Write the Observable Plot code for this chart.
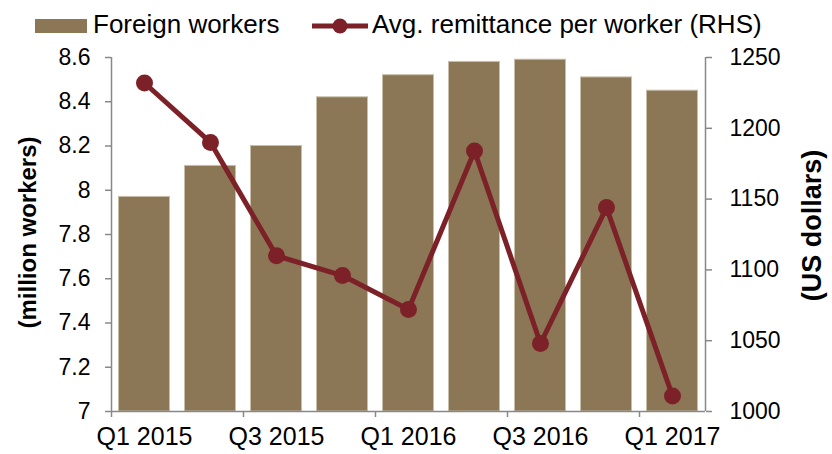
<!DOCTYPE html>
<html>
<head>
<meta charset="utf-8">
<script src="https://cdn.jsdelivr.net/npm/d3@7"></script>
<script src="https://cdn.jsdelivr.net/npm/@observablehq/plot@0.6"></script>
<style>
  body { margin: 0; background: #fff; font-family: "Liberation Sans", Arial, sans-serif; }
  #wrap { width: 832px; }
  #legend { position: relative; width: 832px; height: 40px; }
  #legend .sw { position: absolute; left: 35px; top: 19px; width: 52px; height: 14px; background: #8B7755; }
  #legend .t { position: absolute; top: 11px; font-size: 26px; line-height: 26px; color: #000; white-space: nowrap; }
  #legend svg { position: absolute; left: 0; top: 0; }
</style>
</head>
<body>
<div id="wrap">
  <div id="legend">
    <div class="sw"></div>
    <span class="t" style="left:93px">Foreign workers</span>
    <svg width="380" height="40"><line x1="312" x2="368" y1="26" y2="26" stroke="#7C2128" stroke-width="5"/><circle cx="340" cy="26" r="7.5" fill="#7C2128"/></svg>
    <span class="t" style="left:372px">Avg. remittance per worker (RHS)</span>
  </div>
  <div id="chart"></div>
</div>
<script>
const quarters = ["Q1 2015", "Q2 2015", "Q3 2015", "Q4 2015", "Q1 2016", "Q2 2016", "Q3 2016", "Q4 2016", "Q1 2017"];
const workers = [7.97, 8.11, 8.20, 8.42, 8.52, 8.58, 8.59, 8.51, 8.45];
const remittance = [1232, 1190, 1110, 1096, 1072, 1184, 1048, 1144, 1011];
const leftTicks = [7, 7.2, 7.4, 7.6, 7.8, 8, 8.2, 8.4, 8.6];
const rightTicks = [1000, 1050, 1100, 1150, 1200, 1250];
const labeledQuarters = ["Q1 2015", "Q3 2015", "Q1 2016", "Q3 2016", "Q1 2017"];

const BAR = "#8B7755", LINE = "#7C2128", AX = "#888888";
const L0 = leftTicks[0], L1 = leftTicks[leftTicks.length - 1];
const R0 = rightTicks[0], R1 = rightTicks[rightTicks.length - 1];
const toLeft = v => L0 + (v - R0) / (R1 - R0) * (L1 - L0);
const toRight = v => R0 + (v - L0) / (L1 - L0) * (R1 - R0);

const data = quarters.map((q, i) => ({i, q, workers: workers[i], rem: remittance[i]}));
const pad = 0.1136;
const labelIdx = labeledQuarters.map(q => quarters.indexOf(q));

const chart = Plot.plot({
  width: 832,
  height: 414,
  marginLeft: 111,
  marginRight: 127,
  marginTop: 17,
  marginBottom: 43,
  style: {fontFamily: "'Liberation Sans', Arial, sans-serif", background: "#fff", color: "#000"},
  x: {type: "linear", domain: [0, quarters.length], axis: null},
  y: {domain: [L0, L1], axis: null},
  marks: [
    Plot.rectY(data, {x1: d => d.i + pad, x2: d => d.i + 1 - pad, y1: L0, y2: "workers", fill: BAR, stroke: "#c9bfa9", strokeWidth: 1}),
    Plot.ruleX([0, quarters.length], {stroke: AX, strokeWidth: 1.5}),
    Plot.ruleY([L0], {stroke: AX, strokeWidth: 1.5}),
    Plot.axisY({ticks: leftTicks, tickSize: 6, text: null, stroke: AX, strokeWidth: 1.5, label: null}),
    Plot.axisY({ticks: leftTicks, tickSize: 0, tickPadding: 21, tickFormat: d => String(Math.round(d * 10) / 10), fontSize: 23, fill: "#000", label: null}),
    Plot.axisY({anchor: "right", ticks: rightTicks.map(toLeft), tickSize: 6, text: null, stroke: AX, strokeWidth: 1.5, label: null}),
    Plot.axisY({anchor: "right", ticks: rightTicks.map(toLeft), tickSize: 0, tickPadding: 24, tickFormat: d => String(Math.round(toRight(d))), fontSize: 23, fill: "#000", label: null}),
    Plot.axisX({ticks: labelIdx, tickSize: 6, text: null, stroke: AX, strokeWidth: 1.5, label: null}),
    Plot.axisX({ticks: labelIdx.map(i => i + 0.5), tickSize: 0, tickPadding: 16, tickFormat: d => quarters[d - 0.5], fontSize: 25, fill: "#000", label: null}),
    Plot.line(data, {x: d => d.i + 0.5, y: d => toLeft(d.rem), stroke: LINE, strokeWidth: 5}),
    Plot.dot(data, {x: d => d.i + 0.5, y: d => toLeft(d.rem), r: 8.5, fill: LINE}),
    Plot.text(["(million workers)"], {frameAnchor: "left", textAnchor: "middle", rotate: -90, dx: -83, dy: -2, fontSize: 24, fontWeight: "bold", fill: "#000"}),
    Plot.text(["(US dollars)"], {frameAnchor: "right", textAnchor: "middle", rotate: -90, dx: 107, dy: -9, fontSize: 27, fontWeight: "bold", fill: "#000"})
  ]
});
document.getElementById("chart").appendChild(chart);
</script>
</body>
</html>
